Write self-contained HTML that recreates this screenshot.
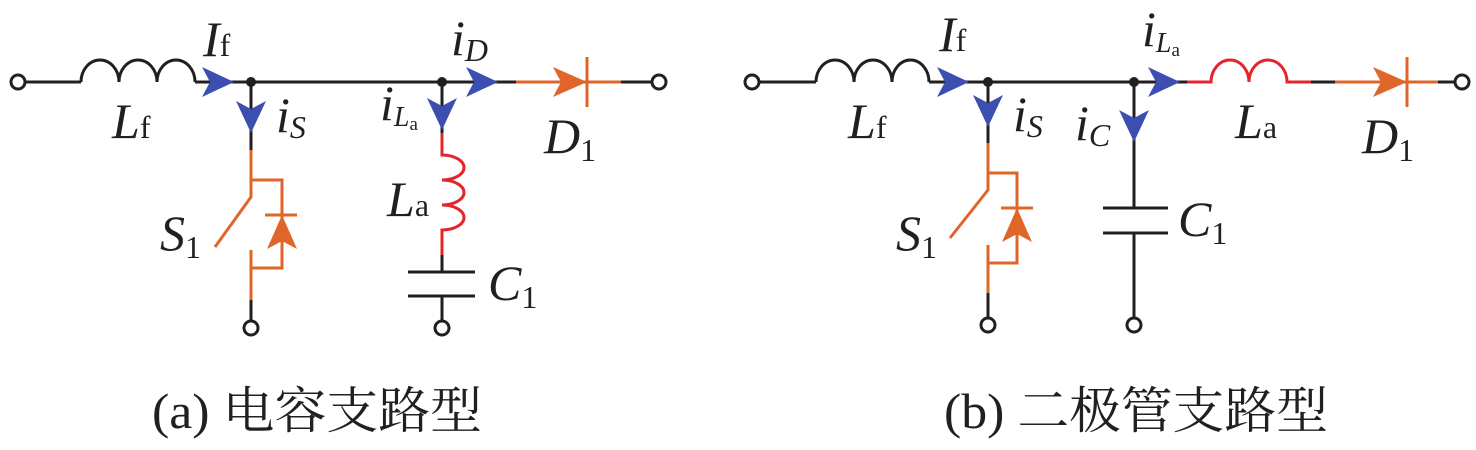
<!DOCTYPE html>
<html><head><meta charset="utf-8"><style>
body{margin:0;background:#fff}
svg{display:block}
text{font-family:"Liberation Serif",serif;fill:#231f20}
.l{font-style:italic;font-size:50px}
.s{font-style:normal;font-size:32px}
.si{font-style:italic;font-size:32px}
.cap{font-size:50px;font-family:"Liberation Serif","Noto Serif CJK SC",serif}
</style></head><body>
<svg width="1476" height="450" viewBox="0 0 1476 450" xmlns="http://www.w3.org/2000/svg">
<defs>
<g id="blue"><path d="M0,0 L-32,-15 L-24,0 L-32,15 Z" fill="#3c4fb0"/></g>
<g id="or"><path d="M0,0 L-34,-15 L-26,0 L-34,15 Z" fill="#e0652a"/></g>
</defs>
<g stroke-width="3" fill="none">
<circle cx="18" cy="82" r="7" stroke="#231f20" fill="#fff"/>
<path d="M25,82 H81" stroke="#231f20"/>
<path d="M81,82 a19,22 0 0 1 38,0 a19,22 0 0 1 38,0 a19,22 0 0 1 38,0" stroke="#231f20"/>
<path d="M195,82 H516" stroke="#231f20"/>
<path d="M516,82 H621" stroke="#e0652a"/>
<path d="M587,57 V107" stroke="#e0652a"/>
<path d="M621,82 H652" stroke="#231f20"/>
<circle cx="659" cy="82" r="7" stroke="#231f20" fill="#fff"/>
<path d="M251,82 V150" stroke="#231f20"/>
<path d="M251,150 V197 L215,247 M251,180 H282 V268 H251 M251,250 V300 M265,215 H297" stroke="#e0652a"/>
<path d="M251,300 V321" stroke="#231f20"/>
<circle cx="251" cy="328" r="7" stroke="#231f20" fill="#fff"/>
<path d="M442,82 V133" stroke="#231f20"/>
<path d="M442,133 V155 a22,12.5 0 0 1 0,25 a22,12.5 0 0 1 0,25 a22,12.5 0 0 1 0,25 V255" stroke="#e3262b"/>
<path d="M442,255 V272 M408,272 H475 M408,296 H475 M442,296 V321" stroke="#231f20"/>
<circle cx="442" cy="328" r="7" stroke="#231f20" fill="#fff"/>
<circle cx="752" cy="82" r="7" stroke="#231f20" fill="#fff"/>
<path d="M759,82 H816" stroke="#231f20"/>
<path d="M816,82 a19,22 0 0 1 38,0 a19,22 0 0 1 38,0 a18.5,22 0 0 1 37,0" stroke="#231f20"/>
<path d="M929,82 H1187" stroke="#231f20"/>
<path d="M1187,82 H1211 a19,22 0 0 1 38,0 a19,22 0 0 1 38,0 H1311" stroke="#e3262b"/>
<path d="M1311,82 H1335" stroke="#231f20"/>
<path d="M1335,82 H1438 M1407,57 V107" stroke="#e0652a"/>
<path d="M1438,82 H1455" stroke="#231f20"/>
<circle cx="1462" cy="82" r="7" stroke="#231f20" fill="#fff"/>
<path d="M988,82 V143" stroke="#231f20"/>
<path d="M988,143 V190 L950,238 M988,173 H1017 V263 H988 M988,245 V293 M1001,208 H1033" stroke="#e0652a"/>
<path d="M988,293 V318" stroke="#231f20"/>
<circle cx="988" cy="325" r="7" stroke="#231f20" fill="#fff"/>
<path d="M1134,82 V208 M1103,208 H1168 M1103,233 H1168 M1134,233 V318" stroke="#231f20"/>
<circle cx="1134" cy="325" r="7" stroke="#231f20" fill="#fff"/>
</g>
<circle cx="251" cy="82" r="5" fill="#231f20"/><circle cx="442" cy="82" r="5" fill="#231f20"/>
<circle cx="988" cy="82" r="5" fill="#231f20"/><circle cx="1134" cy="82" r="5" fill="#231f20"/>
<use href="#blue" x="234" y="82"/>
<use href="#blue" x="498" y="82"/>
<use href="#blue" transform="translate(251,133) rotate(90)"/>
<use href="#blue" transform="translate(442,130) rotate(90)"/>
<use href="#or" x="587" y="82"/>
<use href="#or" transform="translate(282,215) rotate(-90)"/>
<use href="#blue" x="969" y="82"/>
<use href="#blue" x="1180" y="82"/>
<use href="#blue" transform="translate(988,127) rotate(90)"/>
<use href="#blue" transform="translate(1134,142) rotate(90)"/>
<use href="#or" x="1407" y="82"/>
<use href="#or" transform="translate(1017,208) rotate(-90)"/>
<text x="203" y="56" class="l">I<tspan class="s" dy="0">f</tspan></text>
<text x="112" y="138" class="l">L<tspan class="s" dy="0">f</tspan></text>
<text x="451" y="55" class="l">i<tspan class="si" dy="6">D</tspan></text>
<text x="276" y="132" class="l">i<tspan class="si" dy="6">S</tspan></text>
<text x="380" y="120" class="l">i<tspan class="si" dy="6" style="font-size:28px">L</tspan><tspan class="s" dy="4" style="font-size:19px">a</tspan></text>
<text x="387" y="216" class="l">L<tspan class="s" dy="0">a</tspan></text>
<text x="488" y="300" class="l">C<tspan class="s" dy="8">1</tspan></text>
<text x="544" y="153" class="l">D<tspan class="s" dy="8">1</tspan></text>
<text x="160" y="250" class="l">S<tspan class="s" dy="8">1</tspan></text>
<text x="939" y="51" class="l">I<tspan class="s" dy="0">f</tspan></text>
<text x="848" y="138" class="l">L<tspan class="s" dy="0">f</tspan></text>
<text x="1013" y="131" class="l">i<tspan class="si" dy="6">S</tspan></text>
<text x="1075" y="140" class="l">i<tspan class="si" dy="6">C</tspan></text>
<text x="1142" y="46" class="l">i<tspan class="si" dy="6" style="font-size:28px">L</tspan><tspan class="s" dy="4" style="font-size:19px">a</tspan></text>
<text x="1235" y="138" class="l">L<tspan class="s" dy="0">a</tspan></text>
<text x="1178" y="236" class="l">C<tspan class="s" dy="8">1</tspan></text>
<text x="1362" y="153" class="l">D<tspan class="s" dy="8">1</tspan></text>
<text x="896" y="250" class="l">S<tspan class="s" dy="8">1</tspan></text>
<text x="152" y="428" class="cap" textLength="330" lengthAdjust="spacingAndGlyphs">(a) 电容支路型</text>
<text x="944" y="428" class="cap" textLength="384" lengthAdjust="spacingAndGlyphs">(b) 二极管支路型</text>
</svg>
</body></html>
